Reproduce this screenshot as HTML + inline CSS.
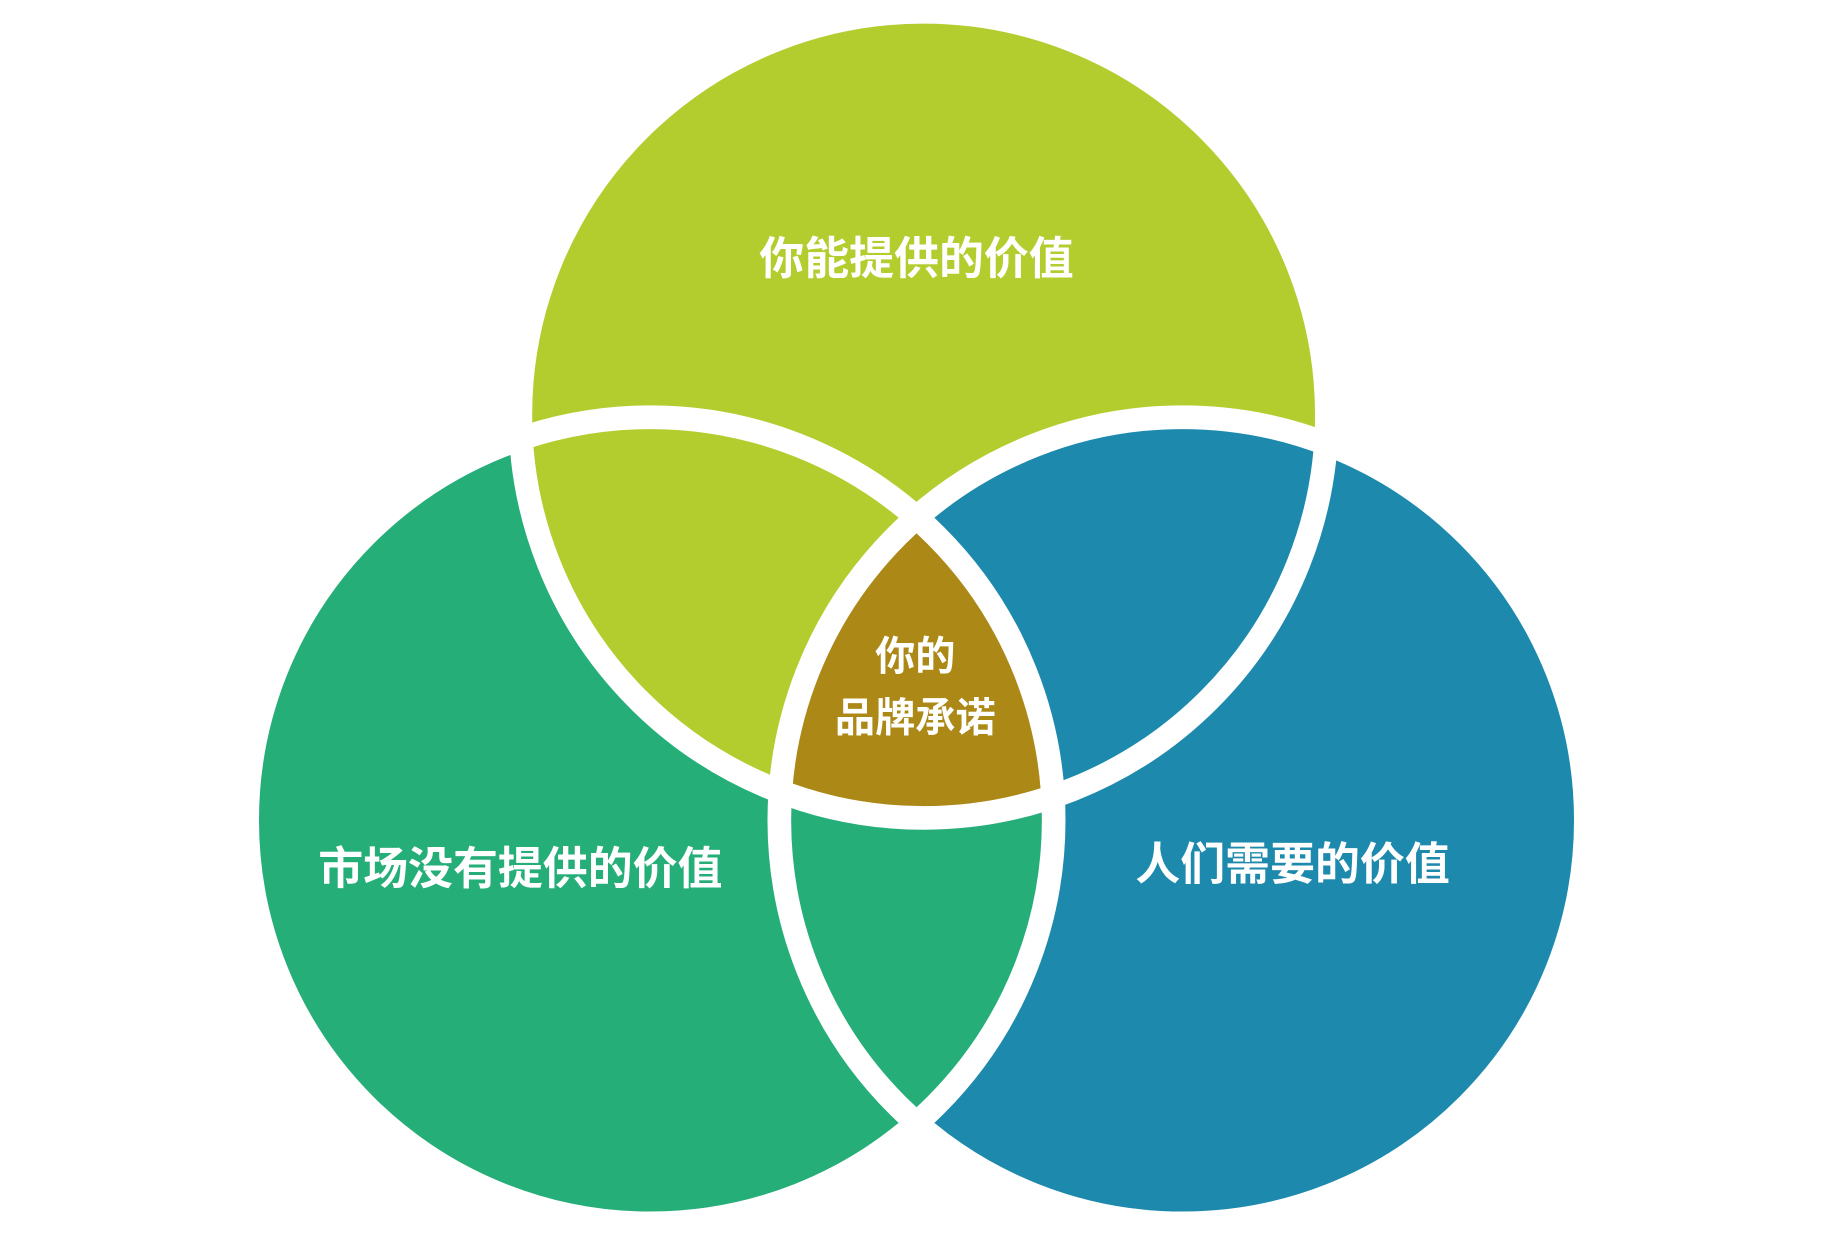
<!DOCTYPE html>
<html><head><meta charset="utf-8"><style>
html,body{margin:0;padding:0;background:#fff;}
svg{display:block;}
text{font-family:"Liberation Sans","Noto Sans CJK SC",sans-serif;font-weight:bold;fill:#fff;text-anchor:middle;}
</style></head><body>
<svg width="1833" height="1234" viewBox="0 0 1550 1044" preserveAspectRatio="none" xmlns="http://www.w3.org/2000/svg">
<defs>
<clipPath id="cT"><circle cx="781" cy="351" r="341"/></clipPath>
<clipPath id="cL"><circle cx="550" cy="694" r="341"/></clipPath>
<clipPath id="cR"><circle cx="1000" cy="694" r="341"/></clipPath>
</defs>
<circle cx="550" cy="694" r="341" fill="#26ae79"/>
<circle cx="1000" cy="694" r="341" fill="#1d8aad"/>
<circle cx="781" cy="351" r="341" fill="#b3cd2f"/>
<g clip-path="url(#cL)"><circle cx="781" cy="351" r="341" fill="#b3cd2f"/></g>
<g clip-path="url(#cT)"><circle cx="1000" cy="694" r="341" fill="#1d8aad"/></g>
<g clip-path="url(#cR)"><circle cx="550" cy="694" r="341" fill="#26ae79"/></g>
<g clip-path="url(#cT)"><g clip-path="url(#cL)"><circle cx="1000" cy="694" r="341" fill="#ac8816"/></g></g>
<g fill="none" stroke="#fff" stroke-width="20">
<circle cx="550" cy="694" r="341"/>
<circle cx="1000" cy="694" r="341"/>
<circle cx="781" cy="351" r="341"/>
</g>
<text x="775" y="232" font-size="38">你能提供的价值</text>
<text x="440" y="748" font-size="38">市场没有提供的价值</text>
<text x="1093" y="744" font-size="38">人们需要的价值</text>
<text x="774" y="567" font-size="34">你的</text>
<text x="774" y="619" font-size="34">品牌承诺</text>
</svg>
</body></html>
